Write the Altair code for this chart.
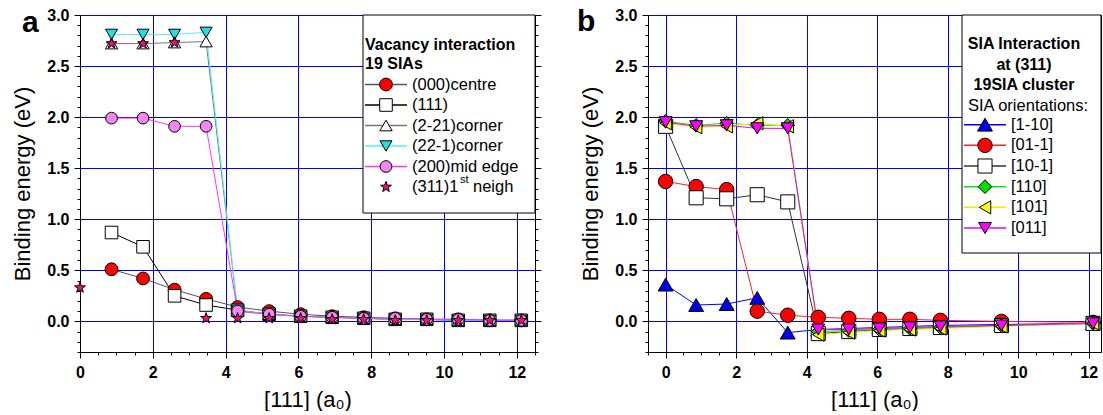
import altair as alt
import pandas as pd

FONT = "Liberation Sans"

# ---------------- Panel a : vacancy interaction ----------------
XA = [0.866, 1.732, 2.598, 3.464, 4.330, 5.196, 6.062, 6.928, 7.794, 8.660, 9.526, 10.392, 11.258, 12.124]
A_CENTRE = [0.51, 0.42, 0.31, 0.22, 0.14, 0.10, 0.07, 0.05, 0.04, 0.03, 0.02, 0.02, 0.01, 0.01]
A_111 = [0.87, 0.73, 0.25, 0.16, 0.11, 0.07, 0.05, 0.04, 0.03, 0.02, 0.02, 0.01, 0.01, 0.01]
A_2M21 = [2.72, 2.72, 2.73, 2.74, 0.10, 0.07, 0.05, 0.04, 0.03, 0.02, 0.02, 0.01, 0.01, 0.01]
A_22M1 = [2.81, 2.81, 2.81, 2.83, 0.11, 0.07, 0.05, 0.04, 0.03, 0.02, 0.02, 0.01, 0.01, 0.01]
A_MID = [1.99, 1.99, 1.91, 1.91, 0.10, 0.07, 0.05, 0.04, 0.03, 0.03, 0.02, 0.02, 0.01, 0.01]
XA_STAR = [0.0, 0.866, 1.732, 2.598, 3.464, 4.330, 5.196, 6.062, 6.928, 7.794, 8.660, 9.526, 10.392, 11.258, 12.124]
A_STAR = [0.33, 2.72, 2.72, 2.73, 0.03, 0.03, 0.03, 0.03, 0.02, 0.02, 0.01, 0.01, 0.01, 0.01, 0.01]

SERIES_A = ["(000)centre", "(111)", "(2-21)corner", "(22-1)corner", "(200)mid edge", "(311)1st neigh"]
LABELS_A = ["(000)centre", "(111)", "(2-21)corner", "(22-1)corner", "(200)mid edge", "(311)1"]
STAR = ("M0,-1L0.235,-0.324L0.951,-0.309L0.38,0.124L0.588,0.809L0,0.4"
        "L-0.588,0.809L-0.38,0.124L-0.951,-0.309L-0.235,-0.324Z")
LINE_A = ["#555555", "#000000", "#777777", "#55eeee", "#ff33ff", "#ffffff"]
FILL_A = ["#ff0000", "#ffffff", "#ffffff", "#22e0e0", "#f585f0", "#ee1177"]
SHAPE_A = ["circle", "square", "triangle-up", "triangle-down", "circle", STAR]
SIZE_A = [165, 130, 220, 220, 165, 170]

# ---------------- Panel b : SIA interaction ----------------
XB = [0.0, 0.866, 1.732, 2.598, 3.464, 4.330, 5.196, 6.062, 6.928, 7.794, 9.526, 12.124]
B_1M10 = [0.36, 0.16, 0.17, 0.23, -0.11, -0.08, -0.07, -0.06, -0.05, -0.04, -0.03, -0.02]
B_01M1 = [1.37, 1.32, 1.29, 0.10, 0.06, 0.04, 0.03, 0.02, 0.02, 0.01, 0.00, -0.01]
B_10M1 = [1.91, 1.21, 1.20, 1.24, 1.17, -0.12, -0.10, -0.08, -0.07, -0.06, -0.04, -0.02]
B_110 = [1.96, 1.92, 1.94, 1.92, 1.92, -0.10, -0.09, -0.08, -0.07, -0.06, -0.04, -0.02]
B_101 = [1.94, 1.90, 1.91, 1.94, 1.91, -0.13, -0.11, -0.09, -0.08, -0.07, -0.05, -0.02]
B_011 = [1.95, 1.91, 1.92, 1.89, 1.89, -0.08, -0.08, -0.07, -0.06, -0.05, -0.04, -0.02]

SERIES_B = ["[1-10]", "[01-1]", "[10-1]", "[110]", "[101]", "[011]"]
LINE_B = ["#0000ff", "#ff2222", "#333333", "#00ee00", "#eeee00", "#ee00ee"]
FILL_B = ["#0000ee", "#ff0000", "#ffffff", "#00dd00", "#ffff00", "#ff00ff"]
SHAPE_B = ["triangle-up", "circle", "square", "diamond", "triangle-left", "triangle-down"]
SIZE_B = [220, 165, 130, 170, 220, 220]

# major x ticks (labelled + gridlines)
X_MAJOR = [0, 2, 4, 6, 8, 10, 12]


def long(xs_list, ys_list, names):
    rows = []
    for xs, ys, n in zip(xs_list, ys_list, names):
        for i, (x, y) in enumerate(zip(xs, ys)):
            rows.append({"x": x, "y": y, "series": n, "order": i})
    return pd.DataFrame(rows)


df_a = long([XA, XA, XA, XA, XA, XA_STAR],
            [A_CENTRE, A_111, A_2M21, A_22M1, A_MID, A_STAR], SERIES_A)
df_b = long([XB] * 6, [B_1M10, B_01M1, B_10M1, B_110, B_101, B_011], SERIES_B)

MAJ_Y = "abs(datum.value*2-round(datum.value*2))<0.05"
MAJ_X = "abs(datum.value/2-round(datum.value/2))<0.1"


def tick_vals(lo, hi, step, nd=1):
    n = int(round((hi - lo) / step))
    return [round(lo + step * i, nd) for i in range(n + 1)]


def y_axis(lo, orient="left", labels=True):
    return alt.Axis(values=tick_vals(lo, 3.0, 0.1), format=".1f", orient=orient,
                    labelExpr=MAJ_Y + " ? datum.label : ''", labels=labels,
                    tickSize={"condition": {"test": MAJ_Y, "value": 6}, "value": 3},
                    gridOpacity={"condition": {"test": MAJ_Y, "value": 1}, "value": 0},
                    grid=labels, domain=labels,
                    labelOverlap=False, labelFlush=False,
                    title="Binding energy (eV)" if labels else None,
                    titlePadding=12, labelPadding=5)


def x_axis(lo, hi):
    return alt.Axis(values=tick_vals(lo, hi, 0.5),
                    labelExpr=MAJ_X + " ? format(round(datum.value), 'd') : ''",
                    tickSize={"condition": {"test": MAJ_X, "value": 6}, "value": 3},
                    gridOpacity={"condition": {"test": MAJ_X, "value": 1}, "value": 0},
                    labelOverlap=False, labelFlush=False, title="[111] (a₀)",
                    titlePadding=9, labelPadding=6)


def panel(df, series, lines, fills, shapes, sizes, xdom, xtick_lo, xtick_hi, ydom, no_line=None):
    xs = alt.Scale(domain=xdom, nice=False, zero=False)
    ys = alt.Scale(domain=ydom, nice=False, zero=False)
    X = alt.X("x:Q", scale=xs, axis=x_axis(xtick_lo, xtick_hi))
    Y = alt.Y("y:Q", scale=ys, axis=y_axis(ydom[0]))
    stroke = alt.Stroke("series:N", scale=alt.Scale(domain=series, range=lines), legend=None)
    fill = alt.Fill("series:N", scale=alt.Scale(domain=series, range=fills), legend=None)
    shape = alt.Shape("series:N", scale=alt.Scale(domain=series, range=shapes), legend=None)
    size = alt.Size("series:N", scale=alt.Scale(domain=series, range=sizes), legend=None)
    base = alt.Chart(df)
    line_df = base if no_line is None else base.transform_filter(alt.datum.series != no_line)
    ln = line_df.mark_line(strokeWidth=1, clip=True).encode(x=X, y=Y, stroke=stroke, order="order:Q")
    pts = base.mark_point(filled=True, stroke="black", strokeWidth=1, opacity=1,
                          fillOpacity=1, clip=False).encode(x=X, y=Y, fill=fill, shape=shape, size=size)
    data_layer = alt.layer(ln, pts)
    return data_layer, stroke, fill, shape, size


def txt(x, y, s, size=16, weight="normal", align="left", baseline="alphabetic"):
    return alt.Chart(alt.Data(values=[{}])).mark_text(
        text=s, font=FONT, fontSize=size, fontWeight=weight, align=align, baseline=baseline,
        color="black").encode(x=alt.value(x), y=alt.value(y))


def legend(series, labels, stroke, fill, shape, size, box, line_x, mk_x, lab_x, rows_px):
    ldf = pd.DataFrame({"series": series, "label": labels, "row": list(range(len(series)))})
    Yr = alt.Y("row:Q", scale=alt.Scale(domain=[0, len(series) - 1], range=rows_px), axis=None)
    b = alt.Chart(alt.Data(values=[{}])).mark_rect(fill="white", stroke="black", strokeWidth=1).encode(
        x=alt.value(box[0]), x2=alt.value(box[1]), y=alt.value(box[2]), y2=alt.value(box[3]))
    lc = alt.Chart(ldf)
    r = lc.mark_rule(strokeWidth=1.5).encode(x=alt.value(line_x[0]), x2=alt.value(line_x[1]), y=Yr, stroke=stroke)
    p = lc.mark_point(filled=True, stroke="black", strokeWidth=1, opacity=1, fillOpacity=1).encode(
        x=alt.value(mk_x), y=Yr, fill=fill, shape=shape, size=size)
    t = lc.mark_text(align="left", baseline="middle", font=FONT, fontSize=16.5, color="black").encode(
        x=alt.value(lab_x), y=Yr, text="label:N")
    return b, alt.layer(r, p, t), Yr, lc


# ---- panel a ----
WA, HA = 455, 337
da, sa, fa, sha, sza = panel(df_a, SERIES_A, LINE_A, FILL_A, SHAPE_A, SIZE_A, [0, 12.5], 0, 12.5, [-0.3, 3.0],
                             no_line="(311)1st neigh")
box_a, rows_a, Yra, lca = legend(SERIES_A, LABELS_A, sa, fa, sha, sza, [283, WA, 0, 198],
                                 [285, 327], 306, 332, [69.5, 172])
sup_a = lca.transform_filter(alt.datum.row == 5).mark_text(
    text="st", align="left", baseline="middle", font=FONT, fontSize=11, dy=-7, color="black").encode(
    x=alt.value(380), y=Yra)
neigh_a = lca.transform_filter(alt.datum.row == 5).mark_text(
    text="neigh", align="left", baseline="middle", font=FONT, fontSize=16.5, color="black").encode(
    x=alt.value(393), y=Yra)
right_a = alt.Chart(df_a).mark_point(opacity=0).encode(
    y=alt.Y("y:Q", scale=alt.Scale(domain=[-0.3, 3.0], nice=False, zero=False),
            axis=y_axis(-0.3, orient="right", labels=False)))
chart_a = alt.layer(
    da, right_a, box_a,
    txt(285, 34.5, "Vacancy interaction", weight="bold"),
    txt(285, 53.8, "19 SIAs", weight="bold"),
    rows_a, sup_a, neigh_a,
    txt(-58, 16.5, "a", size=30, weight="bold"),
).resolve_scale(y="independent").properties(width=WA, height=HA)

# ---- panel b ----
WB, HB = 453, 337
db, sb, fb, shb, szb = panel(df_b, SERIES_B, LINE_B, FILL_B, SHAPE_B, SIZE_B, [-0.5, 12.35], -0.5, 12.0,
                             [-0.3, 3.0])
box_b, rows_b, _, _ = legend(SERIES_B, SERIES_B, sb, fb, shb, szb, [314, WB, 0, 238],
                             [316, 358], 337, 363, [109.7, 213])
chart_b = alt.layer(
    db, box_b,
    txt(376, 34, "SIA Interaction", weight="bold", align="center"),
    txt(376, 54.5, "at (311)", weight="bold", align="center"),
    txt(376, 75, "19SIA cluster", weight="bold", align="center"),
    txt(380, 95.5, "SIA orientations:", size=16.5, align="center"),
    rows_b,
    txt(-71, 16.4, "b", size=30, weight="bold"),
).resolve_scale(y="independent").properties(width=WB, height=HB)

chart = alt.hconcat(chart_a, chart_b, spacing=34).resolve_scale(
    fill="independent", stroke="independent", shape="independent", size="independent"
).properties(padding={"left": 11, "top": 6, "right": 0, "bottom": 0}).configure(
    font=FONT
).configure_view(stroke="black", strokeWidth=1).configure_axis(
    domainColor="black", domainWidth=1, tickColor="black", tickWidth=1,
    gridColor="#0000ff", gridWidth=1, labelFont=FONT, labelFontSize=16, labelFontWeight="bold",
    labelColor="black", titleFont=FONT, titleFontSize=22, titleFontWeight="normal", titleColor="black"
)

chart.save("out.html", embed_options={"renderer": "svg", "actions": False})
